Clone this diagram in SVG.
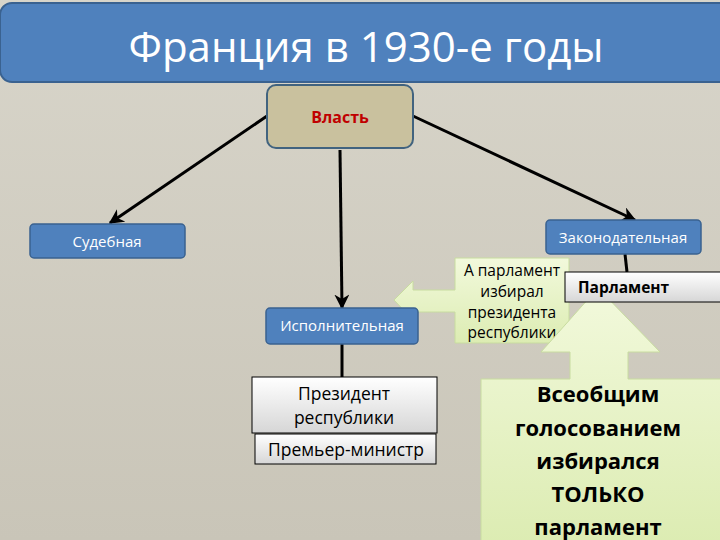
<svg xmlns="http://www.w3.org/2000/svg" width="720" height="540" viewBox="0 0 720 540">
<style>
text{font-family:"Open Sans","Liberation Sans",sans-serif}
.blue{fill:#4f81bd;stroke:#3a6290;stroke-width:1.5}
.wt{fill:#fff;font-size:15px;text-anchor:middle}
.gray{fill:url(#gg);stroke:#000;stroke-width:1}
.bk{fill:#000;font-size:17.5px;text-anchor:middle}
.con{stroke:#000;stroke-width:3;fill:none}
.green{fill:url(#gn);stroke:#c8dca0;stroke-width:1}
.cl{font-size:15.5px;text-anchor:middle;fill:#000}
.big{font-size:22px;font-weight:bold;text-anchor:middle;fill:#000}
</style>
<defs>
<linearGradient id="bg" x1="0" y1="0" x2="0" y2="1"><stop offset="0" stop-color="#d8d5ca"/><stop offset="1" stop-color="#c9c5b8"/></linearGradient>
<linearGradient id="gg" x1="0" y1="0" x2="0" y2="1"><stop offset="0" stop-color="#ffffff"/><stop offset="1" stop-color="#d6d6d6"/></linearGradient>
<linearGradient id="gn" x1="0" y1="0" x2="0" y2="1"><stop offset="0" stop-color="#f2f9dc"/><stop offset="1" stop-color="#dcecb2"/></linearGradient>
<marker id="ah" viewBox="0 0 10 10" refX="9" refY="5" markerWidth="5" markerHeight="5" orient="auto" markerUnits="strokeWidth"><path d="M0,0 L10,5 L0,10 L3,5 z" fill="#000"/></marker>
</defs>
<rect x="0" y="0" width="720" height="540" fill="url(#bg)"/>

<g id="title">
<rect x="0" y="3" width="740" height="79" rx="12" fill="#4f81bd" stroke="#3a6290" stroke-width="2"/>
<text x="366" y="62" fill="#fff" font-size="42" text-anchor="middle">Франция в 1930-е годы</text>
</g>

<g id="connectors">
<line class="con" x1="267" y1="116" x2="110" y2="223" marker-end="url(#ah)"/>
<line class="con" x1="413" y1="116" x2="635" y2="220" marker-end="url(#ah)"/>
<line class="con" x1="340" y1="150" x2="342" y2="308" marker-end="url(#ah)"/>
<line class="con" x1="625" y1="254" x2="627" y2="272"/>
<line class="con" x1="342" y1="344" x2="342" y2="377"/>
</g>

<g id="vlast">
<rect x="267" y="85" width="146" height="63" rx="9" fill="#c9c19e" stroke="#41637f" stroke-width="2"/>
<text x="340" y="123" fill="#c00000" font-size="16" font-weight="bold" text-anchor="middle">Власть</text>
</g>

<g id="sud">
<rect class="blue" x="30" y="224" width="155" height="34" rx="4"/>
<text class="wt" x="107" y="247">Судебная</text>
</g>

<g id="zakon">
<rect class="blue" x="546" y="220" width="155" height="34" rx="4"/>
<text class="wt" x="623" y="243">Законодательная</text>
</g>

<g id="callout-left">
<path class="green" d="M455,258 H569 V343 H455 V312 H413 V320 L394,300 L413,281 V290 H455 Z"/>
<text class="cl" x="512" y="276">А парламент</text>
<text class="cl" x="512" y="297">избирал</text>
<text class="cl" x="512" y="318">президента</text>
<text class="cl" x="512" y="338">республики</text>
</g>

<g id="isp">
<rect class="blue" x="266" y="308" width="152" height="36" rx="4"/>
<text class="wt" x="342" y="331">Исполнительная</text>
</g>

<g id="prez">
<rect class="gray" x="252" y="377" width="185" height="56"/>
<text class="bk" x="344" y="400">Президент</text>
<text class="bk" x="344" y="424">республики</text>
</g>

<g id="premier">
<rect class="gray" x="255" y="434" width="181" height="30"/>
<text class="bk" x="346" y="456">Премьер-министр</text>
</g>

<g id="callout-up">
<path class="green" d="M598,288 L660,352 H628 V379 H725 V545 H481 V379 H570 V352 H541 Z"/>
<text class="big" x="598" y="402">Всеобщим</text>
<text class="big" x="598" y="436">голосованием</text>
<text class="big" x="598" y="469">избирался</text>
<text class="big" x="598" y="502" font-size="24">ТОЛЬКО</text>
<text class="big" x="598" y="535">парламент</text>
</g>

<g id="parlament">
<rect class="gray" x="565" y="272" width="160" height="30"/>
<text x="578" y="293" fill="#000" font-size="15.5" font-weight="bold">Парламент</text>
</g>
</svg>
